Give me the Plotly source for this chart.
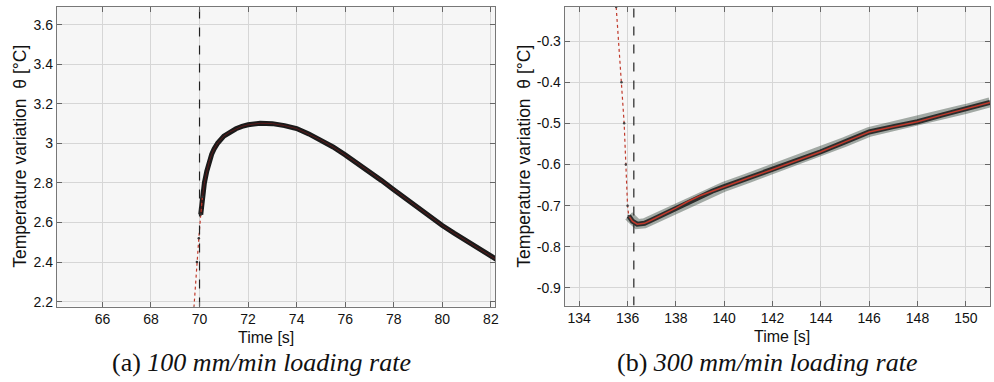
import plotly.graph_objects as go

# ---------------- data ----------------
# Panel (a) 100 mm/min: fitted / measured temperature variation
a_rise_t = [69.77, 69.89, 69.97, 70.05, 70.12]
a_rise_v = [2.17, 2.40, 2.52, 2.64, 2.73]
a_t = [70.05, 70.1, 70.2, 70.3, 70.4, 70.5, 70.6, 70.75, 71.0, 71.25, 71.5,
       71.75, 72.0, 72.5, 73.0, 73.5, 74.0, 74.5, 75.0, 75.5, 76.0, 76.5,
       77.0, 77.5, 78.0, 78.5, 79.0, 79.5, 80.0, 80.5, 81.0, 81.5, 82.0, 82.3]
a_v = [2.64, 2.71, 2.80, 2.86, 2.91, 2.945, 2.972, 3.002, 3.037, 3.058,
       3.074, 3.086, 3.094, 3.102, 3.100, 3.090, 3.075, 3.048, 3.017, 2.982,
       2.942, 2.900, 2.857, 2.812, 2.766, 2.720, 2.675, 2.630, 2.585, 2.545,
       2.505, 2.468, 2.430, 2.408]
a_mark = 70.0

# Panel (b) 300 mm/min
b_fall_t = [135.53, 135.75, 135.86, 135.93, 136.0, 136.05]
b_fall_v = [-0.217, -0.40, -0.50, -0.60, -0.70, -0.725]
b_t = [136.05, 136.2, 136.4, 136.7, 137.0, 137.5, 138.0, 138.5, 139.0,
       139.5, 140.0, 141.0, 142.0, 143.0, 144.0, 145.0, 146.0, 147.0,
       148.0, 149.0, 150.0, 151.0]
b_v = [-0.725, -0.738, -0.745, -0.743, -0.735, -0.721, -0.706, -0.690,
       -0.676, -0.665, -0.654, -0.633, -0.612, -0.590, -0.569, -0.545,
       -0.521, -0.508, -0.496, -0.480, -0.465, -0.449]
b_mark = 136.26

a_xticks = [66, 68, 70, 72, 74, 76, 78, 80, 82]
a_yticks = [2.2, 2.4, 2.6, 2.8, 3.0, 3.2, 3.4, 3.6]
a_ytext = ["2.2", "2.4", "2.6", "2.8", "3", "3.2", "3.4", "3.6"]
b_xticks = [134, 136, 138, 140, 142, 144, 146, 148, 150]
b_yticks = [-0.9, -0.8, -0.7, -0.6, -0.5, -0.4, -0.3]
b_ytext = ["-0.9", "-0.8", "-0.7", "-0.6", "-0.5", "-0.4", "-0.3"]

a_xrange = [64.12, 82.17]
a_yrange = [2.175, 3.69]
b_xrange = [133.4, 151.0]
b_yrange = [-0.943, -0.217]

W, H = 994, 382
RED = "#c0392b"

fig = go.Figure()

# ---------- panel a ----------
fig.add_trace(go.Scatter(x=a_t, y=a_v, mode="lines", xaxis="x", yaxis="y",
                         line=dict(color="#1a1a1a", width=5),
                         hoverinfo="skip", showlegend=False))
fig.add_trace(go.Scatter(x=a_t, y=a_v, mode="lines", xaxis="x", yaxis="y",
                         line=dict(color="#5a1a1a", width=1),
                         hoverinfo="skip", showlegend=False))
fig.add_trace(go.Scatter(x=a_rise_t, y=a_rise_v, mode="lines+markers", xaxis="x", yaxis="y",
                         line=dict(color=RED, width=1.2, dash="dot"),
                         marker=dict(size=2.5, color="#333"),
                         hoverinfo="skip", showlegend=False))
fig.add_trace(go.Scatter(x=[a_mark, a_mark], y=a_yrange, mode="lines", xaxis="x", yaxis="y",
                         line=dict(color="#222", width=1.2, dash="dash"),
                         hoverinfo="skip", showlegend=False))

# ---------- panel b ----------
fig.add_trace(go.Scatter(x=b_t, y=b_v, mode="lines", xaxis="x2", yaxis="y2",
                         line=dict(color="rgba(60,75,65,0.45)", width=10),
                         hoverinfo="skip", showlegend=False))
fig.add_trace(go.Scatter(x=b_t, y=b_v, mode="lines", xaxis="x2", yaxis="y2",
                         line=dict(color="rgba(25,25,25,0.85)", width=5),
                         hoverinfo="skip", showlegend=False))
fig.add_trace(go.Scatter(x=b_t, y=b_v, mode="lines", xaxis="x2", yaxis="y2",
                         line=dict(color=RED, width=1.5),
                         hoverinfo="skip", showlegend=False))
fig.add_trace(go.Scatter(x=b_fall_t, y=b_fall_v, mode="lines+markers", xaxis="x2", yaxis="y2",
                         line=dict(color=RED, width=1.2, dash="dot"),
                         marker=dict(size=2.5, color="#444"),
                         hoverinfo="skip", showlegend=False))
fig.add_trace(go.Scatter(x=[b_mark, b_mark], y=b_yrange, mode="lines", xaxis="x2", yaxis="y2",
                         line=dict(color="#222", width=1.2, dash="dash"),
                         hoverinfo="skip", showlegend=False))

TICKFONT = dict(family="Liberation Sans", size=14, color="#111")

def xax(domain, rng, ticks, anchor):
    return dict(domain=domain, range=rng, anchor=anchor, tickvals=ticks,
                ticktext=[str(t) for t in ticks], tickfont=TICKFONT,
                ticks="inside", ticklen=5, tickcolor="#666", ticklabelstandoff=0,
                showline=True, linecolor="#777", linewidth=1, mirror="ticks",
                showgrid=True, gridcolor="#d6d6d6", gridwidth=1, zeroline=False,
                fixedrange=True)

def yax(domain, rng, ticks, text, anchor):
    return dict(domain=domain, range=rng, anchor=anchor, tickvals=ticks,
                ticktext=text, tickfont=TICKFONT, ticklabelstandoff=0,
                ticks="inside", ticklen=5, tickcolor="#666",
                showline=True, linecolor="#777", linewidth=1, mirror="ticks",
                showgrid=True, gridcolor="#d6d6d6", gridwidth=1, zeroline=False,
                fixedrange=True)

fig.update_layout(
    width=W, height=H,
    margin=dict(l=0, r=0, t=0, b=0),
    paper_bgcolor="white",
    plot_bgcolor="#f6f6f6",
    xaxis=xax([57 / W, 497 / W], a_xrange, a_xticks, "y"),
    yaxis=yax([(H - 309) / H, (H - 7) / H], a_yrange, a_yticks, a_ytext, "x"),
    xaxis2=xax([567 / W, 1.0], b_xrange, b_xticks, "y2"),
    yaxis2=yax([(H - 308) / H, (H - 7) / H], b_yrange, b_yticks, b_ytext, "x2"),
)

TITLEFONT = dict(family="Liberation Sans", size=16, color="#111")
SERIF = dict(family="Liberation Serif", size=26, color="#111")
YTFONT = dict(family="Liberation Sans", size=17.5, color="#111")

annots = [
    dict(x=267 / W, y=1 - 340 / H, text="Time [s]", font=TITLEFONT),
    dict(x=785 / W, y=1 - 339 / H, text="Time [s]", font=TITLEFONT),
    dict(x=20 / W, y=1 - 157 / H, text="Temperature variation  θ [°C]", font=YTFONT, textangle=-90),
    dict(x=526 / W, y=1 - 157 / H, text="Temperature variation  θ [°C]", font=YTFONT, textangle=-90),
    dict(x=263 / W, y=1 - 365 / H, text="(a) <i>100 mm/min loading rate</i>", font=SERIF),
    dict(x=770 / W, y=1 - 365 / H, text="(b) <i>300 mm/min loading rate</i>", font=SERIF),
]
for a in annots:
    fig.add_annotation(xref="paper", yref="paper", showarrow=False,
                       xanchor="center", yanchor="middle", **a)

fig.write_html("out.html")
